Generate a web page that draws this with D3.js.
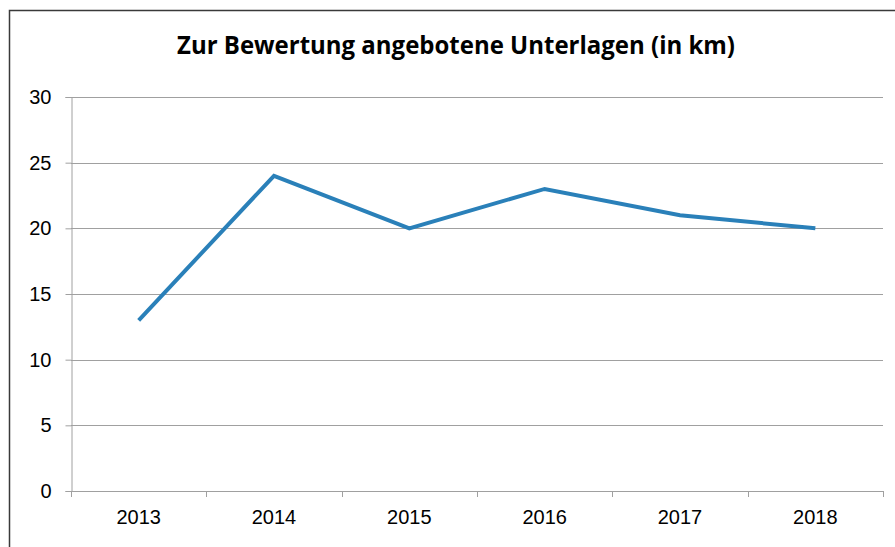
<!DOCTYPE html>
<html><head><meta charset="utf-8">
<script src="https://cdn.jsdelivr.net/npm/d3@7"></script>
<style>html,body{margin:0;padding:0;background:#fff;overflow:hidden}</style>
</head><body>
<script>
const title = "Zur Bewertung angebotene Unterlagen (in km)";
const years = ["2013","2014","2015","2016","2017","2018"];
const values = [13, 24, 20, 23, 21, 20];
const yTicks = [0,5,10,15,20,25,30];

const W = 895, H = 547;
const svg = d3.select("body").append("svg").attr("width", W).attr("height", H);

// outer frame (left and top edges visible)
svg.append("path").attr("d", "M9.5,547 L9.5,10.5 L895,10.5")
  .attr("fill","none").attr("stroke","#3a3a3a").attr("stroke-width",1.5);

const L = 71, R = 883, T = 97, B = 491;
const x = d3.scaleBand().domain(years).range([L, R]);
const y = d3.scaleLinear().domain([0, 30]).range([B, T]);

// gridlines
svg.append("g").selectAll("line").data(yTicks.filter(d => d > 0)).join("line")
  .attr("x1", L).attr("x2", R)
  .attr("y1", d => Math.round(y(d)) + 0.5).attr("y2", d => Math.round(y(d)) + 0.5)
  .attr("stroke", "#a0a0a0").attr("stroke-width", 1);

// y axis
const yAxis = svg.append("g").attr("transform", `translate(${L + 0.5},0)`)
  .call(d3.axisLeft(y).tickValues(yTicks).tickSize(6).tickPadding(14).tickFormat(d3.format("d")));
yAxis.select(".domain").attr("stroke", "#a0a0a0");
yAxis.selectAll(".tick line").attr("stroke", "#a0a0a0");
yAxis.selectAll("text").attr("font-family", "'Liberation Sans', Arial, sans-serif")
  .attr("font-size", 20).attr("fill", "#000");

// x axis
const xAxis = svg.append("g").attr("transform", `translate(0,${B + 0.5})`)
  .call(d3.axisBottom(x).tickSize(0).tickPadding(18));
xAxis.select(".domain").attr("stroke", "#a0a0a0").attr("d", `M${L},0H${R}`);
xAxis.selectAll("text").attr("font-family", "'Liberation Sans', Arial, sans-serif")
  .attr("font-size", 20).attr("fill", "#000");
// category boundary ticks
const bounds = years.map(d => x(d)).concat([R]);
svg.append("g").selectAll("line").data(bounds).join("line")
  .attr("x1", d => Math.round(d) + 0.5).attr("x2", d => Math.round(d) + 0.5)
  .attr("y1", B).attr("y2", B + 6)
  .attr("stroke", "#a0a0a0");

// line
const line = d3.line().x((d, i) => x(years[i]) + x.bandwidth() / 2).y(d => y(d));
svg.append("path").datum(values).attr("d", line)
  .attr("fill", "none").attr("stroke", "#2a80b9").attr("stroke-width", 4)
  .attr("stroke-linejoin", "miter").attr("stroke-linecap", "butt");

// title
svg.append("text").attr("x", 456).attr("y", 54).attr("text-anchor", "middle")
  .attr("font-family", "'Open Sans', 'Noto Sans', sans-serif").attr("font-weight", "bold")
  .attr("font-size", 25).attr("fill", "#000")
  .attr("textLength", 558).attr("lengthAdjust", "spacingAndGlyphs")
  .text(title);
</script>
</body></html>
